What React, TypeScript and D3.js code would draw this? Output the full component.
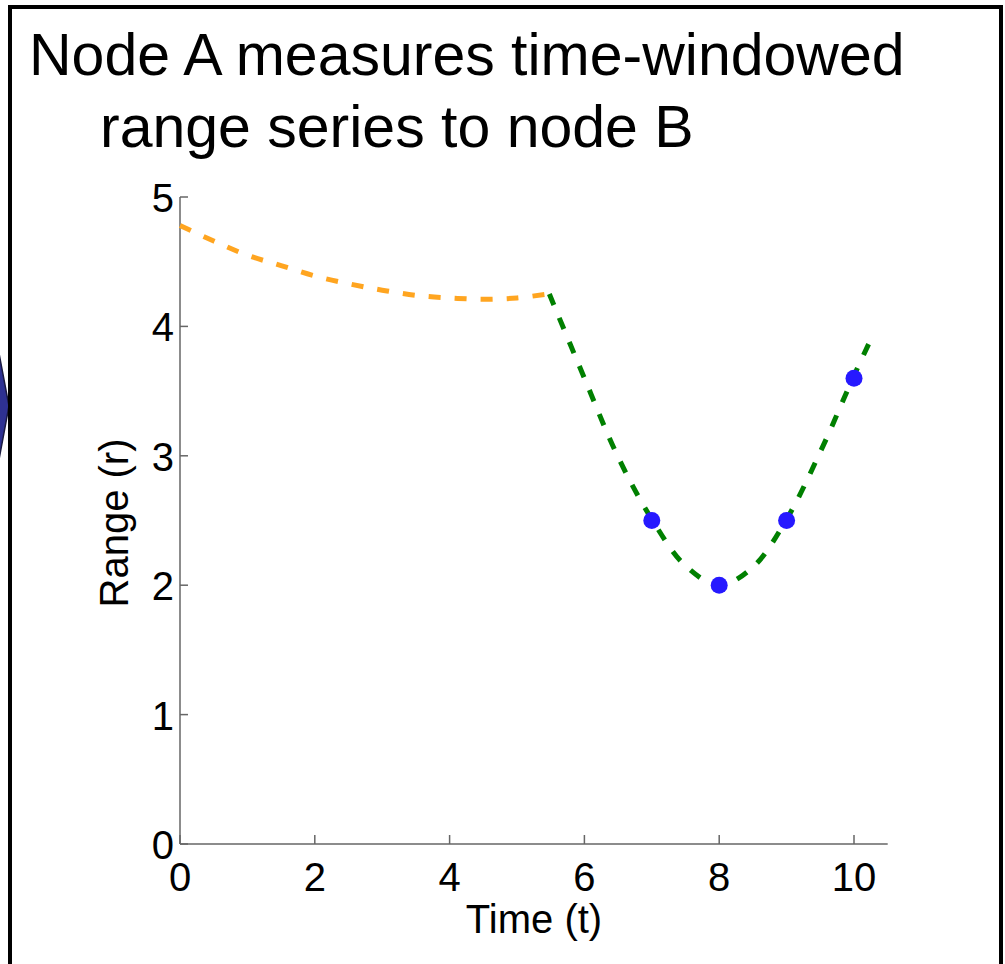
import { useMemo } from 'react'
import * as d3 from 'd3'

const W = 1005
const H = 964
const FONT = '"Liberation Sans", Arial, Helvetica, sans-serif'

// time-windowed range series
const orangeT = [0, 0.5, 1, 1.5, 2, 2.5, 3, 3.5, 4, 4.5, 5, 5.45]
const orangeR = [4.78, 4.66, 4.55, 4.47, 4.39, 4.33, 4.28, 4.24, 4.22, 4.21, 4.22, 4.25]
const greenT = [5.48, 6, 6.5, 7, 7.5, 8, 8.5, 9, 9.5, 10, 10.25]
const greenR = [4.25, 3.6, 2.99, 2.51, 2.15, 2.0, 2.14, 2.51, 3.03, 3.62, 3.9]
const dotT = [7, 8, 9, 10]
const dotR = [2.5, 2.0, 2.5, 3.6]
const xTicks = [0, 2, 4, 6, 8, 10]
const yTicks = [0, 1, 2, 3, 4, 5]

const titleLines = ['Node A measures time-windowed', 'range series to node B']

export default function App() {
  const x = d3.scaleLinear().domain([0, 10.5]).range([180, 887.7])
  const y = d3.scaleLinear().domain([0, 5]).range([844, 197])

  const line = useMemo(
    () =>
      d3
        .line<[number, number]>()
        .x((d) => x(d[0]))
        .y((d) => y(d[1]))
        .curve(d3.curveCatmullRom.alpha(0.5)),
    []
  )

  const orange = orangeT.map((t, i) => [t, orangeR[i]] as [number, number])
  const green = greenT.map((t, i) => [t, greenR[i]] as [number, number])

  return (
    <div style={{ position: 'absolute', left: 0, top: 0 }}>
      <svg width={W} height={H} style={{ display: 'block', fontFamily: FONT }}>
        <rect width={W} height={H} fill="#fff" />
        {/* arrow tip sticking in from the left */}
        <polygon points="-2,348 9,406 -2,465" fill="#2e3192" stroke="#1a1a40" strokeWidth={1.5} />
        <rect x={10} y={7} width={991} height={H + 20} fill="none" stroke="#000" strokeWidth={4} />

        <text fontSize={59} fill="#000">
          <tspan x={29} y={75}>{titleLines[0]}</tspan>
          <tspan x={100} y={147}>{titleLines[1]}</tspan>
        </text>

        {/* axes */}
        <line x1={x(0)} x2={x(10.5)} y1={y(0)} y2={y(0)} stroke="#666" strokeWidth={1.5} />
        <line x1={x(0)} x2={x(0)} y1={y(0)} y2={y(5)} stroke="#666" strokeWidth={1.5} />
        {xTicks.map((t) => (
          <g key={`x${t}`}>
            <line x1={x(t)} x2={x(t)} y1={y(0)} y2={y(0) - 9} stroke="#666" strokeWidth={1.5} />
            <text x={x(t)} y={891} fontSize={40} textAnchor="middle">
              {t}
            </text>
          </g>
        ))}
        {yTicks.map((t) => (
          <g key={`y${t}`}>
            <line x1={x(0)} x2={x(0) + 8} y1={y(t)} y2={y(t)} stroke="#666" strokeWidth={1.5} />
            <text x={174} y={y(t) + 15} fontSize={40} textAnchor="end">
              {t}
            </text>
          </g>
        ))}
        <text x={534} y={933} fontSize={40} textAnchor="middle">
          Time (t)
        </text>
        <text transform="translate(128,523) rotate(-90)" fontSize={40} textAnchor="middle">
          Range (r)
        </text>

        {/* series */}
        <path d={line(orange) ?? ''} fill="none" stroke="#ffa520" strokeWidth={5} strokeDasharray="12,14" />
        <path d={line(green) ?? ''} fill="none" stroke="#008000" strokeWidth={5} strokeDasharray="12,14" />
        {dotT.map((t, i) => (
          <circle key={t} cx={x(t)} cy={y(dotR[i])} r={8.5} fill="#2619ff" />
        ))}
      </svg>
    </div>
  )
}
